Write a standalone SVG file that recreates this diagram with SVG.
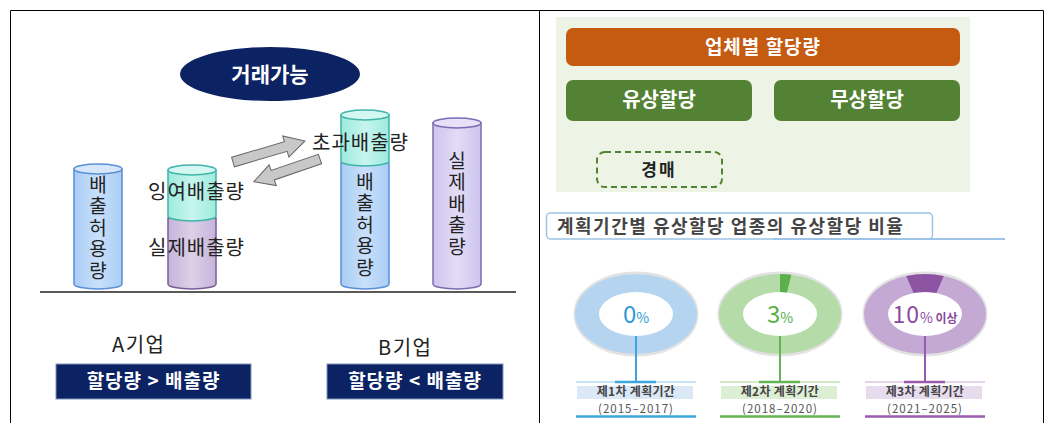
<svg xmlns="http://www.w3.org/2000/svg" width="1051" height="423" viewBox="0 0 1051 423">
<defs>
<linearGradient id="gBlue" x1="0" x2="1" y1="0" y2="0"><stop offset="0" stop-color="#a9cdf5"/><stop offset="0.5" stop-color="#c9e0fa"/><stop offset="1" stop-color="#a9cdf5"/></linearGradient>
<linearGradient id="gCyan" x1="0" x2="1" y1="0" y2="0"><stop offset="0" stop-color="#9eeadd"/><stop offset="0.5" stop-color="#c6f5ee"/><stop offset="1" stop-color="#9eeadd"/></linearGradient>
<linearGradient id="gPurp" x1="0" x2="1" y1="0" y2="0"><stop offset="0" stop-color="#c6b4d9"/><stop offset="0.5" stop-color="#ddd0e8"/><stop offset="1" stop-color="#c6b4d9"/></linearGradient>
<linearGradient id="gLav" x1="0" x2="1" y1="0" y2="0"><stop offset="0" stop-color="#cdc4ee"/><stop offset="0.5" stop-color="#e2dcf6"/><stop offset="1" stop-color="#cdc4ee"/></linearGradient>
</defs>
<style>
.k{font-family:"Noto Sans CJK KR","Noto Sans",sans-serif}
.lbl{font-size:20px;fill:#222;letter-spacing:1px}
.vt{font-size:19px;fill:#222;writing-mode:vertical-rl;text-orientation:upright;letter-spacing:2.5px}
.wt{fill:#fff;text-anchor:middle;font-weight:bold}
.blue{stroke:#5b8fd6;stroke-width:1.5}
.cyan{stroke:#3fb5a8;stroke-width:1.5}
.purp{stroke:#7a5b9a;stroke-width:1.5}
.lav{stroke:#7b6bb0;stroke-width:1.5}
.arr{fill:#c8c8c8;stroke:#666;stroke-width:1}
.gbox{fill:#548235}
.pl{font-size:12px;font-weight:bold;fill:#444;text-anchor:middle;letter-spacing:0.3px}
.yr{font-size:11.5px;fill:#555;text-anchor:middle;letter-spacing:1px}
</style>
<rect x="0" y="0" width="1051" height="423" fill="#fff"/>
<g id="frame" fill="none" stroke="#000" stroke-width="1">
<path d="M10.5,423 V10.5 H1043.5 V423"/>
<line x1="539.5" y1="10" x2="539.5" y2="423"/>
</g>

<g id="trade">
<ellipse cx="270" cy="74" rx="90" ry="27" fill="#0b2263"/>
<text class="k wt" x="270" y="82" font-size="21" font-weight="normal">거래가능</text>
</g>

<line id="baseline" x1="40" y1="292" x2="516" y2="292" stroke="#222" stroke-width="1.5"/>

<g id="cyl-a-allow">
<path class="blue" d="M74,169 L74,284 A24,5 0 0 0 122,284 L122,169 Z" fill="url(#gBlue)"/>
<ellipse class="blue" cx="98" cy="169" rx="24" ry="5" fill="#d6e7fb"/>
<text class="k vt" x="98" y="175">배출허용량</text>
</g>

<g id="cyl-a-actual">
<path class="purp" d="M168,218 L168,284 A24,5 0 0 0 216,284 L216,218 Z" fill="url(#gPurp)"/>
<path class="cyan" d="M168,170 L168,216 A24,5 0 0 0 216,216 L216,170 Z" fill="url(#gCyan)"/>
<ellipse class="cyan" cx="192" cy="170" rx="24" ry="5" fill="#d3f7f1"/>
<text class="k lbl" x="148" y="199">잉여배출량</text>
<text class="k lbl" x="148" y="255">실제배출량</text>
</g>

<g id="cyl-b-allow">
<path class="blue" d="M341,163 L341,284 A24,5 0 0 0 389,284 L389,163 Z" fill="url(#gBlue)"/>
<path class="cyan" d="M341,115 L341,161 A24,5 0 0 0 389,161 L389,115 Z" fill="url(#gCyan)"/>
<ellipse class="cyan" cx="365" cy="115" rx="24" ry="5" fill="#d3f7f1"/>
<text class="k vt" x="365" y="172">배출허용량</text>
</g>

<g id="cyl-b-actual">
<path class="lav" d="M433,123 L433,284 A24,5 0 0 0 481,284 L481,123 Z" fill="url(#gLav)"/>
<ellipse class="lav" cx="457" cy="123" rx="24" ry="5" fill="#e6e1f7"/>
<text class="k vt" x="457" y="151">실제배출량</text>
</g>

<text id="excess" class="k lbl" x="312" y="150">초과배출량</text>

<g id="connectors">
<polygon class="arr" points="0,-5 55,-5 55,-11 75,0 55,11 55,5 0,5" transform="translate(233,162) rotate(-16.3)"/>
<polygon class="arr" points="0,-5 50,-5 50,-11 70,0 50,11 50,5 0,5" transform="translate(320,159) rotate(161.1)"/>
<line x1="659" y1="121" x2="659" y2="152" stroke="#548235" stroke-width="1.2"/>
</g>

<g id="company-a">
<text class="k" x="112" y="352" font-size="20" fill="#222" letter-spacing="1.5">A기업</text>
<rect x="56" y="364" width="195" height="35" fill="#0b2263" stroke="#8096c0" stroke-width="1"/>
<text class="k wt" x="153.5" y="388" font-size="19" letter-spacing="1">할당량 &gt; 배출량</text>
</g>
<g id="company-b">
<text class="k" x="378" y="355" font-size="20" fill="#222" letter-spacing="1.5">B기업</text>
<rect x="327" y="364" width="176" height="35" fill="#0b2263" stroke="#8096c0" stroke-width="1"/>
<text class="k wt" x="415" y="388" font-size="19" letter-spacing="1">할당량 &lt; 배출량</text>
</g>

<rect id="bg" x="556" y="17" width="414" height="175" fill="#edf3e5"/>
<g id="alloc">
<rect x="566" y="28" width="394" height="38" rx="7" fill="#c55a11"/>
<text class="k wt" x="763" y="54" font-size="19" letter-spacing="1">업체별 할당량</text>
</g>
<g id="paid">
<rect class="gbox" x="566" y="80" width="186" height="41" rx="7"/>
<text class="k wt" x="659" y="107" font-size="20">유상할당</text>
</g>
<g id="free">
<rect class="gbox" x="774" y="80" width="186" height="41" rx="7"/>
<text class="k wt" x="867" y="107" font-size="20">무상할당</text>
</g>
<g id="auction">
<rect x="597" y="152" width="125" height="35" rx="8" fill="none" stroke="#548235" stroke-width="2" stroke-dasharray="6,4"/>
<text class="k" x="659" y="176" font-size="17" font-weight="bold" fill="#222" text-anchor="middle" letter-spacing="2">경매</text>
</g>

<g id="title">
<rect x="546.5" y="213" width="386" height="26" rx="4" fill="#fff" stroke="#9dc3e6" stroke-width="1.5"/>
<line x1="773" y1="239" x2="1005" y2="239" stroke="#9dc3e6" stroke-width="2"/>
<text class="k" x="557" y="233" font-size="18" font-weight="bold" fill="#444" letter-spacing="1.5">계획기간별 유상할당 업종의 유상할당 비율</text>
</g>

<g id="period1">
<ellipse cx="636" cy="314" rx="61" ry="41" fill="none" stroke="#e2e2e2" stroke-width="3"/>
<path d="M575,314 A61,40 0 1 0 697,314 A61,40 0 1 0 575,314 Z M599,314 A37,22 0 1 1 673,314 A37,22 0 1 1 599,314 Z" fill="#b4d4f0" fill-rule="evenodd"/>
<text x="636" y="323" text-anchor="middle" fill="#2a9bd7" class="k"><tspan font-size="24">0</tspan><tspan font-size="14">%</tspan></text>
<line x1="636" y1="336" x2="636" y2="382" stroke="#3aa6dc" stroke-width="2"/>
<line x1="576" y1="382" x2="696" y2="382" stroke="#8ccbec" stroke-width="1.2"/>
<line x1="615" y1="382" x2="656" y2="382" stroke="#3aa6dc" stroke-width="2.5"/>
<rect x="577" y="386" width="116" height="13" fill="#dbe9f7"/>
<text class="k pl" x="636" y="396">제1차 계획기간</text>
<text class="k yr" x="636" y="413">(2015–2017)</text>
<line x1="576" y1="416.5" x2="696" y2="416.5" stroke="#3aa6dc" stroke-width="2.5"/>
</g>

<g id="period2">
<ellipse cx="780" cy="314" rx="61" ry="41" fill="none" stroke="#e2e2e2" stroke-width="3"/>
<path d="M719,314 A61,40 0 1 0 841,314 A61,40 0 1 0 719,314 Z M743,314 A37,22 0 1 1 817,314 A37,22 0 1 1 743,314 Z" fill="#b5dba9" fill-rule="evenodd"/>
<path d="M780,274 A61,40 0 0 1 791.4,274.7 L786.9,292.4 A37,22 0 0 0 780,292 Z" fill="#5bb04c"/>
<text x="780" y="323" text-anchor="middle" fill="#55b046" class="k"><tspan font-size="24">3</tspan><tspan font-size="14">%</tspan></text>
<line x1="780" y1="336" x2="780" y2="382" stroke="#62b552" stroke-width="2"/>
<line x1="720" y1="382" x2="840" y2="382" stroke="#a5d698" stroke-width="1.2"/>
<line x1="759" y1="382" x2="800" y2="382" stroke="#62b552" stroke-width="2.5"/>
<rect x="721" y="386" width="116" height="13" fill="#dcefd5"/>
<text class="k pl" x="780" y="396">제2차 계획기간</text>
<text class="k yr" x="780" y="413">(2018–2020)</text>
<line x1="720" y1="416.5" x2="840" y2="416.5" stroke="#62b552" stroke-width="2.5"/>
</g>

<g id="period3">
<ellipse cx="925" cy="314" rx="61" ry="41" fill="none" stroke="#e2e2e2" stroke-width="3"/>
<path d="M864,314 A61,40 0 1 0 986,314 A61,40 0 1 0 864,314 Z M888,314 A37,22 0 1 1 962,314 A37,22 0 1 1 888,314 Z" fill="#c4a9d4" fill-rule="evenodd"/>
<path d="M906.2,276 A61,40 0 0 1 943.8,276 L936.4,293.1 A37,22 0 0 0 913.6,293.1 Z" fill="#8d54a3"/>
<text x="925" y="323" text-anchor="middle" fill="#8a4a9d" class="k"><tspan font-size="23" letter-spacing="1">10</tspan><tspan font-size="14">%</tspan><tspan font-size="12" font-weight="bold"> 이상</tspan></text>
<line x1="925" y1="336" x2="925" y2="382" stroke="#9a5aae" stroke-width="2"/>
<line x1="865" y1="382" x2="985" y2="382" stroke="#c9a9d6" stroke-width="1.2"/>
<line x1="904" y1="382" x2="945" y2="382" stroke="#9a5aae" stroke-width="2.5"/>
<rect x="866" y="386" width="116" height="13" fill="#e7dcee"/>
<text class="k pl" x="925" y="396">제3차 계획기간</text>
<text class="k yr" x="925" y="413">(2021–2025)</text>
<line x1="865" y1="416.5" x2="985" y2="416.5" stroke="#9a5aae" stroke-width="2.5"/>
</g>
</svg>
